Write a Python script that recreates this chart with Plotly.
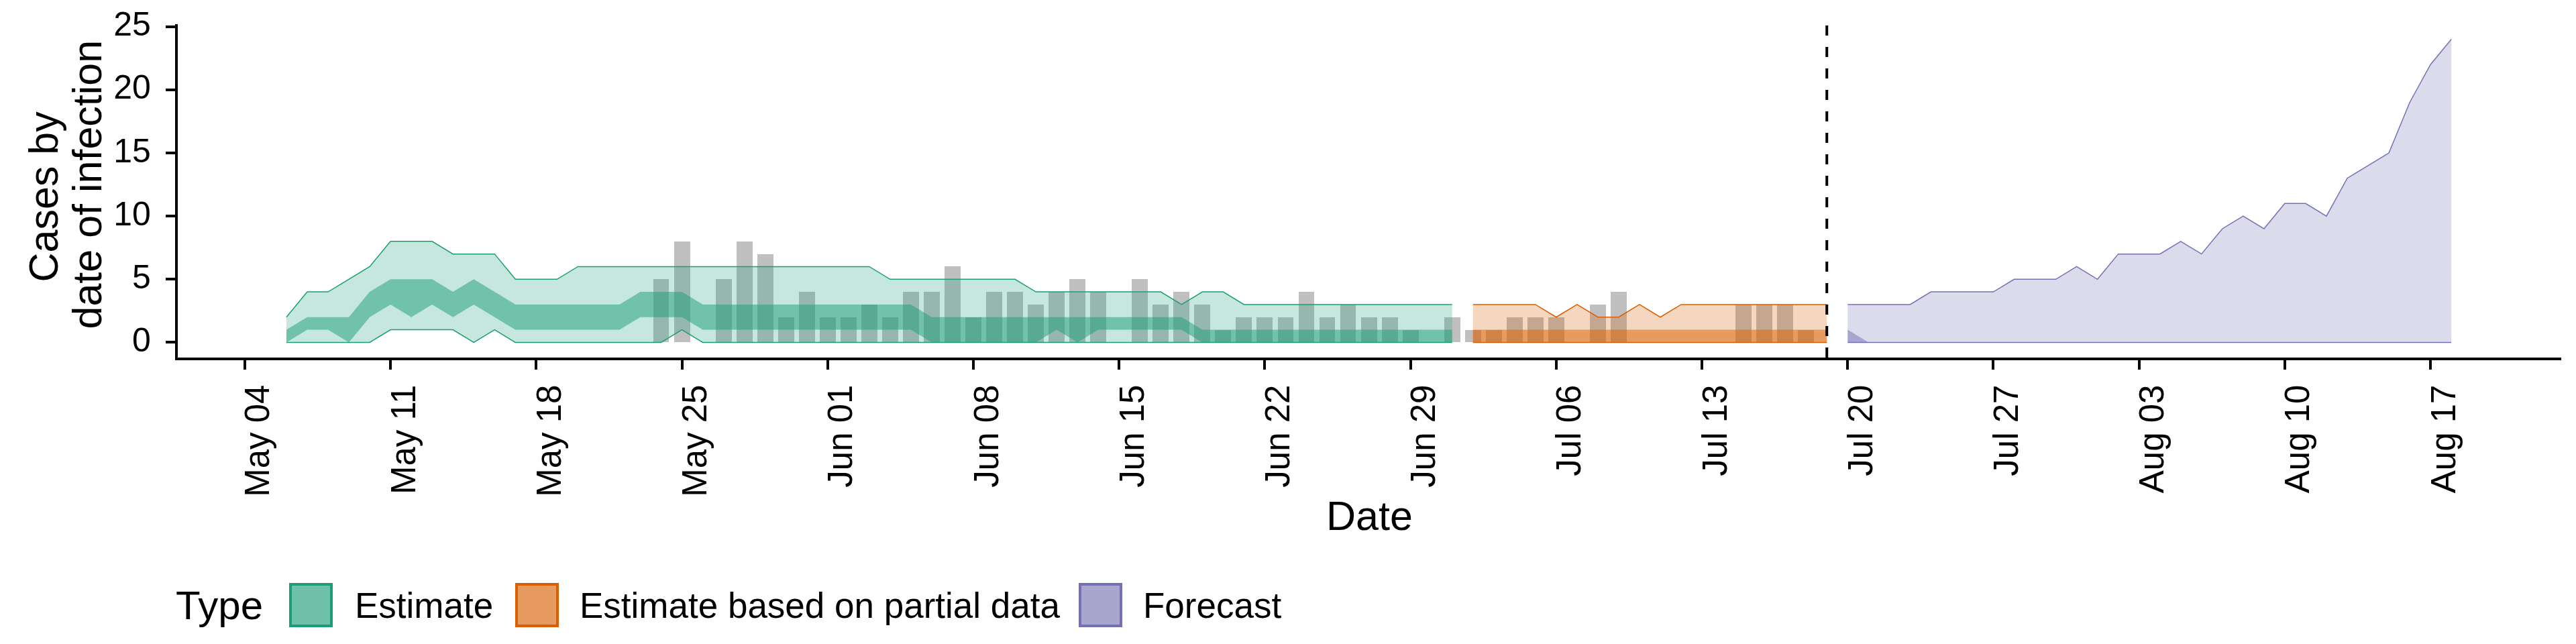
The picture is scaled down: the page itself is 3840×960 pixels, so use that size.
import pandas as pd
import plotly.graph_objects as go

# estimate (May 06 - Jul 01)
est_dates = pd.date_range("2020-05-06", "2020-07-01").strftime("%Y-%m-%d").tolist()
est_lower90 = [0, 0, 0, 0, 0, 1, 1, 1, 1, 0, 1, 0, 0, 0, 0, 0, 0, 0, 0, 1, 0, 0, 0, 0, 0, 0,
               0, 0, 0, 0, 0, 0, 0, 0, 0, 0, 0, 0, 0, 0, 0, 0, 0, 0, 0, 0, 0, 0, 0, 0, 0, 0, 0, 0, 0, 0,
               0]
est_upper90 = [2, 4, 4, 5, 6, 8, 8, 8, 7, 7, 7, 5, 5, 5, 6, 6, 6, 6, 6, 6, 6, 6, 6, 6, 6, 6,
               6, 6, 6, 5, 5, 5, 5, 5, 5, 5, 4, 4, 4, 4, 4, 4, 4, 3, 4, 4, 3, 3, 3, 3, 3, 3, 3, 3, 3, 3,
               3]
est_lower50 = [0, 1, 1, 0, 2, 3, 2, 3, 2, 3, 2, 1, 1, 1, 1, 1, 1, 2, 2, 2, 1, 1, 1, 1, 1, 1,
               1, 1, 1, 1, 1, 0, 0, 0, 0, 0, 0, 1, 0, 1, 1, 1, 1, 1, 0, 0, 0, 0, 0, 0, 0, 0, 0, 0, 0, 0,
               0]
est_upper50 = [1, 2, 2, 2, 4, 5, 5, 5, 4, 5, 4, 3, 3, 3, 3, 3, 3, 4, 4, 4, 3, 3, 3, 3, 3, 3,
               3, 3, 3, 3, 3, 2, 2, 2, 2, 2, 2, 2, 2, 2, 2, 2, 2, 2, 1, 1, 1, 1, 1, 1, 1, 1, 1, 1, 1, 1,
               1]

# estimate based on partial data (Jul 02 - Jul 19)
part_dates = pd.date_range("2020-07-02", "2020-07-19").strftime("%Y-%m-%d").tolist()
part_lower90 = [0] * 18
part_upper90 = [3, 3, 3, 3, 2, 3, 2, 2, 3, 2, 3, 3, 3, 3, 3, 3, 3, 3]
part_lower50 = [0] * 18
part_upper50 = [1] * 18

# forecast (Jul 20 - Aug 18)
fc_dates = pd.date_range("2020-07-20", "2020-08-18").strftime("%Y-%m-%d").tolist()
fc_lower90 = [0] * 30
fc_upper90 = [3, 3, 3, 3, 4, 4, 4, 4, 5, 5, 5, 6, 5, 7, 7, 7, 8, 7, 9, 10, 9, 11, 11, 10, 13, 14, 15, 19, 22, 24]
fc_lower50 = [0] * 30
fc_upper50 = [1] + [0] * 29

# reported cases (May 24 - Jul 19)
obs_dates = pd.date_range("2020-05-24", "2020-07-19").strftime("%Y-%m-%d").tolist()
obs_cases = [5, 8, 0, 5, 8, 7, 2, 4,
             2, 2, 3, 2, 4, 4, 6, 2, 4, 4, 3, 4, 5, 4, 0, 5, 3, 4, 3, 1, 2, 2, 2, 4, 2, 3, 2, 2, 1, 0,
             2, 1, 1, 2, 2, 2, 0, 3, 4, 0, 0, 0, 0, 0, 3, 3, 3, 1, 0]

last_obs = "2020-07-19"
type_names = ["Estimate", "Estimate based on partial data", "Forecast"]
type_cols = ["#1B9E77", "#D95F02", "#7570B3"]

FONT = "Liberation Sans, Arial, sans-serif"
DAY = 86400000


def rgba(hexcol, a):
    h = hexcol.lstrip("#")
    return "rgba(%d,%d,%d,%s)" % (int(h[0:2], 16), int(h[2:4], 16), int(h[4:6], 16), a)


fig = go.Figure()

bands = [
    (est_dates, est_lower90, est_upper90, est_lower50, est_upper50),
    (part_dates, part_lower90, part_upper90, part_lower50, part_upper50),
    (fc_dates, fc_lower90, fc_upper90, fc_lower50, fc_upper50),
]
for (d, lo90, hi90, lo50, hi50), col in zip(bands, type_cols):
    fig.add_trace(go.Scatter(x=d, y=lo90, mode="lines", line=dict(color=col, width=1.5),
                             showlegend=False, hoverinfo="skip"))
    fig.add_trace(go.Scatter(x=d, y=hi90, mode="lines", line=dict(color=col, width=1.5),
                             fill="tonexty", fillcolor=rgba(col, 0.25), showlegend=False))
    fig.add_trace(go.Scatter(x=d, y=lo50, mode="lines", line=dict(width=0),
                             showlegend=False, hoverinfo="skip"))
    fig.add_trace(go.Scatter(x=d, y=hi50, mode="lines", line=dict(width=0),
                             fill="tonexty", fillcolor=rgba(col, 0.5), showlegend=False))

fig.add_trace(go.Bar(x=obs_dates, y=obs_cases, width=0.77 * DAY,
                     marker=dict(color="rgba(128,128,128,0.5)", line=dict(width=0)),
                     showlegend=False))

fig.add_shape(type="line", xref="x", yref="paper", x0=last_obs, x1=last_obs, y0=0, y1=1,
              line=dict(color="black", width=4, dash="15px,17px"), layer="above")

x0 = pd.Timestamp("2020-05-04")
xr = [x0 + pd.Timedelta(days=-3.22), x0 + pd.Timedelta(days=111.28)]

fig.update_layout(
    width=3840, height=960,
    margin=dict(l=257, r=30, t=28, b=435),
    paper_bgcolor="white", plot_bgcolor="white",
    font=dict(family=FONT, color="black"),
    bargap=0,
    showlegend=False,
)
fig.update_xaxes(
    type="date", range=xr, tick0="2020-05-04", dtick=7 * DAY, tickformat="%b %d",
    tickangle=-90, tickfont=dict(size=51, color="black"), automargin=False,
    showline=True, linecolor="black", linewidth=4.3,
    ticks="outside", ticklen=14, tickwidth=4, tickcolor="black",
    showgrid=False, zeroline=False, ticklabelstandoff=2, ticklabelshift=20,
)
fig.update_yaxes(
    range=[-1.2, 25.2], tickvals=[0, 5, 10, 15, 20, 25], automargin=False,
    tickfont=dict(size=50, color="black"),
    showline=True, linecolor="black", linewidth=4.3,
    ticks="outside", ticklen=14, tickwidth=4, tickcolor="black",
    showgrid=False, zeroline=False, ticklabelstandoff=12, ticklabelshift=-4,
)

# axis titles
fig.add_annotation(text="Cases by", xref="paper", yref="paper", x=0, y=0.5, xshift=-201, yshift=-9,
                   xanchor="center", yanchor="middle", textangle=-90, showarrow=False,
                   font=dict(size=61, family=FONT, color="black"))
fig.add_annotation(text="date of infection", xref="paper", yref="paper", x=0, y=0.5, xshift=-136,
                   yshift=9, xanchor="center", yanchor="middle", textangle=-90, showarrow=False,
                   font=dict(size=61, family=FONT, color="black"))
fig.add_annotation(text="Date", xref="paper", yref="paper", x=0.5, y=0, yshift=-236,
                   xanchor="center", yanchor="middle", showarrow=False,
                   font=dict(size=61, family=FONT, color="black"))

# legend drawn below the plot
fig.add_annotation(text="Type", xref="paper", yref="paper", x=0, y=0, xshift=-5, yshift=-369,
                   xanchor="left", yanchor="middle", showarrow=False,
                   font=dict(size=60, family=FONT, color="black"))
key_x = [166, 503, 1343]
text_x = [262, 597, 1437]
for name, col, kx, tx in zip(type_names, type_cols, key_x, text_x):
    fig.add_shape(type="rect", xref="paper", yref="paper", xsizemode="pixel", ysizemode="pixel",
                  xanchor=0, yanchor=0, x0=kx + 2, x1=kx + 63, y0=-338, y1=-400,
                  fillcolor=rgba(col, 0.63), line=dict(color=col, width=4))
    fig.add_annotation(text=name, xref="paper", yref="paper", x=0, y=0, xshift=tx, yshift=-369,
                       xanchor="left", yanchor="middle", showarrow=False,
                       font=dict(size=53, family=FONT, color="black"))

fig.write_html("out.html")
